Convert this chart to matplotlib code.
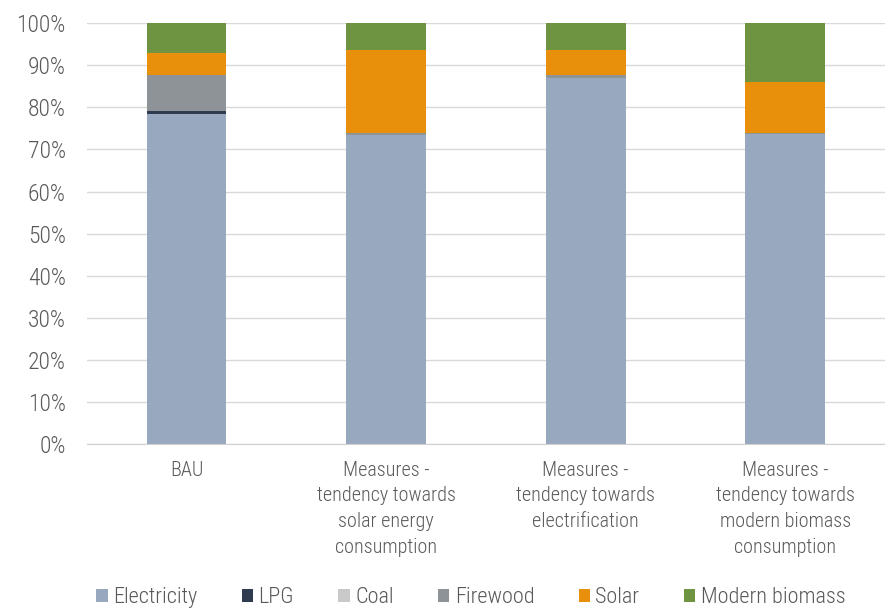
import numpy as np
import matplotlib.pyplot as plt
from matplotlib.ticker import PercentFormatter

plt.rcParams['font.family'] = ['Roboto Condensed', 'Archivo Narrow', 'DejaVu Sans']
plt.rcParams['font.weight'] = 'light'

scenarios = ['BAU',
             'Measures -\ntendency towards\nsolar energy\nconsumption',
             'Measures -\ntendency towards\nelectrification',
             'Measures -\ntendency towards\nmodern biomass\nconsumption']

# shares in %
electricity = [78.5, 73.5, 87.0, 73.6]
lpg = [0.6, 0.0, 0.0, 0.0]
coal = [0.1, 0.0, 0.0, 0.0]
firewood = [8.4, 0.5, 0.6, 0.4]
solar = [5.3, 19.6, 6.0, 12.0]
modern_biomass = [7.1, 6.4, 6.4, 14.0]

fuels = ['Electricity', 'LPG', 'Coal', 'Firewood', 'Solar', 'Modern biomass']
colors = ['#98a8bf', '#2f3c4f', '#c9c9c9', '#8e9398', '#e8900c', '#6f9441']
series = [electricity, lpg, coal, firewood, solar, modern_biomass]

fig = plt.figure(figsize=(8.85, 6.1), dpi=100)
ax = fig.add_axes([0.098, 0.272, 0.902, 0.69])

x = np.arange(len(scenarios))
bottom = np.zeros(len(scenarios))
for name, vals, c in zip(fuels, series, colors):
    ax.bar(x, vals, 0.4, bottom=bottom, color=c, label=name, zorder=2)
    bottom += np.array(vals)

ax.set_xlim(-0.5, 3.5)
ax.set_ylim(0, 100)
ax.set_yticks(np.arange(0, 101, 10))
ax.yaxis.set_major_formatter(PercentFormatter(decimals=0))
ax.grid(axis='y', color='#d9d9d9', linewidth=1, zorder=0)

for s in ['top', 'right', 'left']:
    ax.spines[s].set_visible(False)
ax.spines['bottom'].set_color('#d0d0d0')

ax.set_xticks(x)
ax.set_xticklabels(scenarios, fontsize=14.5, color='#595959', linespacing=1.45)
ax.tick_params(axis='x', length=0, pad=12)
ax.tick_params(axis='y', length=0, labelsize=17, labelcolor='#595959', pad=15)

leg = fig.legend(loc='lower center', bbox_to_anchor=(0.532, -0.03), ncol=6,
                 frameon=False, fontsize=16, handlelength=0.5, handleheight=0.5,
                 handletextpad=0.25, columnspacing=2.0)
for t in leg.get_texts():
    t.set_color('#595959')

fig.savefig('out.png', dpi=100)
